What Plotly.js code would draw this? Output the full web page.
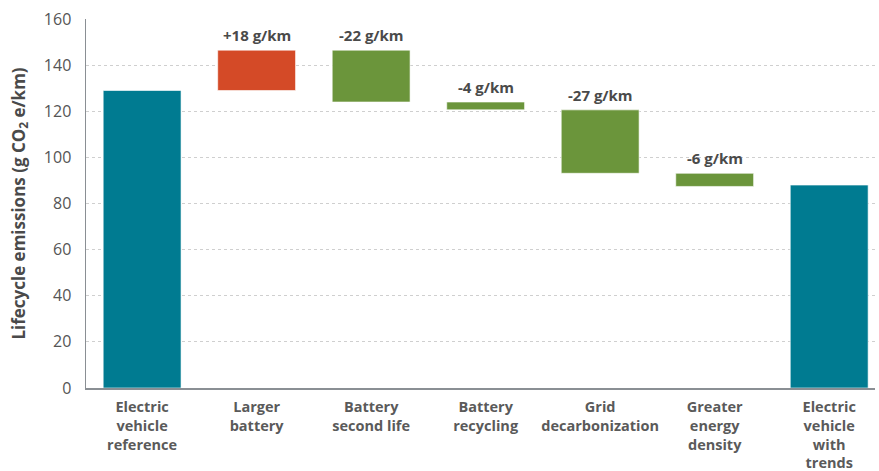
<!DOCTYPE html>
<html><head><meta charset="utf-8">
<script src="https://cdn.plot.ly/plotly-3.0.1.min.js"></script>
<style>html,body{margin:0;padding:0;background:#fff}#chart{width:879px;height:471px}</style>
</head><body><div id="chart"></div>
<script>
const categories = ["Electric<br>vehicle<br>reference","Larger<br>battery","Battery<br>second life","Battery<br>recycling","Grid<br>decarbonization","Greater<br>energy<br>density","Electric<br>vehicle<br>with<br>trends"];
const measures = ["absolute","relative","relative","relative","relative","relative","total"];
const values = [129, 17.5, -22.5, -3.4, -27.5, -5.7, 88];
const changeLabels = ["", "+18 g/km", "-22 g/km", "-4 g/km", "-27 g/km", "-6 g/km", ""];

const TEAL = "#007B91", RED = "#D44A27", GREEN = "#6B953B";
const FONT = "'Open Sans', Lato, sans-serif";
let running = 0;
const bases = [], heights = [], colors = [], tops = [];
values.forEach((v, i) => {
  if (measures[i] === "absolute" || measures[i] === "total") {
    bases.push(0); heights.push(v); colors.push(TEAL); running = v; tops.push(v);
  } else {
    const start = running, end = running + v;
    bases.push(Math.min(start, end)); heights.push(Math.abs(v));
    colors.push(v >= 0 ? RED : GREEN); tops.push(Math.max(start, end));
    running = end;
  }
});

const trace = {
  type: "bar", x: categories, y: heights, base: bases,
  marker: {color: colors, line: {color: "rgba(255,255,255,0.6)", width: 1}},
  hoverinfo: "skip"
};

const annotations = changeLabels.map((t, i) => t ? {
  x: categories[i], y: tops[i], text: t, showarrow: false, yanchor: "bottom", yshift: 3,
  font: {family: FONT, size: 15, color: "#4a4a4a", weight: "bold"}
} : null).filter(a => a);

const layout = {
  width: 879, height: 471,
  margin: {l: 86, r: 4, t: 19, b: 83},
  paper_bgcolor: "#fff", plot_bgcolor: "#fff",
  showlegend: false, bargap: 0.32,
  font: {family: FONT, color: "#555"},
  xaxis: {
    range: [-0.49, 6.4], showgrid: false, showline: true, linecolor: "#8a8f94", linewidth: 1.5,
    ticks: "", ticklabelstandoff: 5, tickfont: {size: 14.5, color: "#5a5a5a", weight: "bold"}, fixedrange: true
  },
  yaxis: {
    range: [0, 160], dtick: 20, showgrid: true, griddash: "dot", gridcolor: "#cfcfcf", gridwidth: 1,
    showline: true, linecolor: "#8a8f94", linewidth: 1.5, zeroline: false, ticks: "",
    ticklabelstandoff: 10, tickfont: {size: 16, color: "#555"},
    title: {text: "Lifecycle emissions (g CO<sub>2</sub> e/km)", standoff: 14,
      font: {size: 17, color: "#4a4a4a", weight: "bold"}}
  },
  annotations: annotations
};
Plotly.newPlot("chart", [trace], layout, {displayModeBar: false, staticPlot: true});
</script></body></html>
